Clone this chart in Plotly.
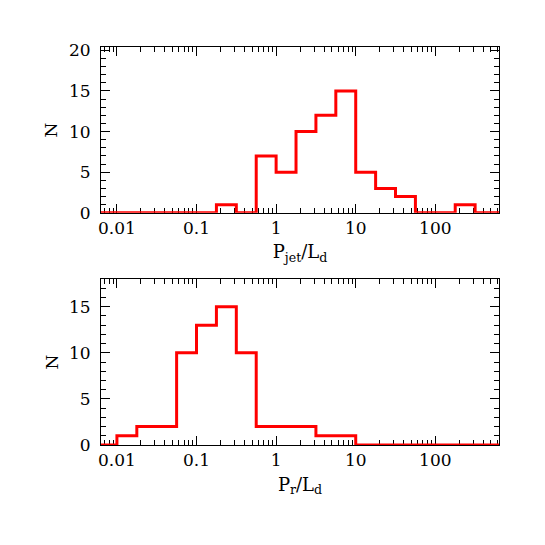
import plotly.graph_objects as go
from plotly.subplots import make_subplots

# histogram bin left edges (log10) and counts
bin_edges_log = [-2.25, -2.0, -1.75, -1.5, -1.25, -1.0, -0.75, -0.5, -0.25, 0.0,
                 0.25, 0.5, 0.75, 1.0, 1.25, 1.5, 1.75, 2.0, 2.25, 2.5, 2.75, 3.0]
jet_counts = [0, 0, 0, 0, 0, 0, 1, 0, 7, 5, 10, 12, 15, 5, 3, 2, 0, 0, 1, 0, 0]
rad_counts = [0, 1, 2, 2, 10, 13, 15, 10, 2, 2, 2, 1, 1, 0, 0, 0, 0, 0, 0, 0, 0]

x_tickvals = [0.01, 0.1, 1, 10, 100]
x_ticktext = ["0.01", "0.1", "1", "10", "100"]

FONT = "DejaVu Serif"


def step_xy(edges_log, counts):
    xs = [10 ** e for e in edges_log]
    ys = list(counts) + [counts[-1]]
    return xs, ys


fig = make_subplots(rows=2, cols=1, vertical_spacing=0.1665)

for row, counts in ((1, jet_counts), (2, rad_counts)):
    xs, ys = step_xy(bin_edges_log, counts)
    fig.add_trace(go.Scatter(x=xs, y=ys, mode="lines", line_shape="hv",
                             line=dict(color="#ff0000", width=3),
                             showlegend=False, hoverinfo="skip"),
                  row=row, col=1)

minor_x = [m * 10 ** d for d in range(-3, 3) for m in range(2, 10)]

common_x = dict(type="log", range=[-2.2, 2.8], showline=True, mirror="allticks",
                linecolor="black", linewidth=1, ticks="inside", ticklen=9,
                tickcolor="black", tickwidth=1, tickmode="array",
                tickvals=x_tickvals, ticktext=x_ticktext, showgrid=False,
                zeroline=False, layer="below traces",
                tickfont=dict(family=FONT, size=17, color="black"),
                minor=dict(ticks="inside", ticklen=5, tickcolor="black",
                           tickwidth=1, tickmode="array", tickvals=minor_x,
                           showgrid=False))

fig.update_xaxes(**common_x)
fig.update_xaxes(title=dict(text="P<sub>jet</sub>/L<sub>d</sub>", standoff=8,
                            font=dict(family=FONT, size=18, color="black")),
                 row=1, col=1)
fig.update_xaxes(title=dict(text="P<sub>r</sub>/L<sub>d</sub>", standoff=8,
                            font=dict(family=FONT, size=18, color="black")),
                 row=2, col=1)

common_y = dict(showline=True, mirror="allticks", linecolor="black", linewidth=1,
                ticks="inside", ticklen=9, tickcolor="black", tickwidth=1,
                showgrid=False, zeroline=False, tickmode="array",
                ticklabelstandoff=6,
                tickfont=dict(family=FONT, size=17, color="black"),
                title=dict(text="N", standoff=6,
                           font=dict(family=FONT, size=17, color="black")))

fig.update_yaxes(**common_y)
fig.update_yaxes(range=[0, 20.4], tickvals=[0, 5, 10, 15, 20],
                 minor=dict(ticks="inside", ticklen=5, tickcolor="black",
                            tickmode="array", tickvals=list(range(0, 21)),
                            showgrid=False),
                 row=1, col=1)
fig.update_yaxes(range=[0, 18], tickvals=[0, 5, 10, 15],
                 minor=dict(ticks="inside", ticklen=5, tickcolor="black",
                            tickmode="array", tickvals=list(range(0, 19)),
                            showgrid=False),
                 row=2, col=1)

# the page adds an 8px body margin, so margins are shifted to compensate
fig.update_layout(width=545, height=545, plot_bgcolor="white",
                  paper_bgcolor="white",
                  margin=dict(l=93, r=54, t=39, b=108))

fig.write_html("out.html")
